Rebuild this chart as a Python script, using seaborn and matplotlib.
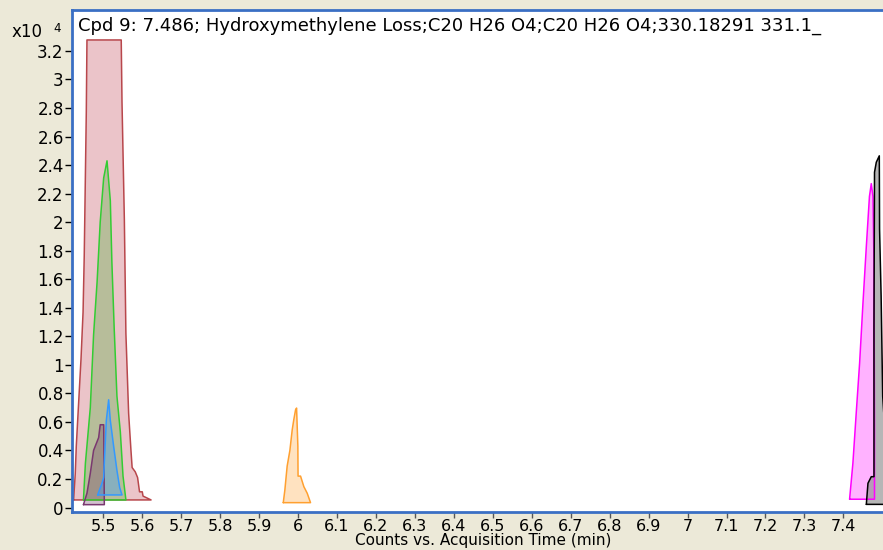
import numpy as np
import pandas as pd
import matplotlib
matplotlib.use('Agg')
import matplotlib.pyplot as plt
import seaborn as sns
from matplotlib.ticker import FuncFormatter

# peak outlines (time in min, counts in x10^4)
red_t = [5.4237, 5.428, 5.4306, 5.4427, 5.448, 5.451, 5.4563, 5.458, 5.546, 5.548, 5.554,
         5.558, 5.565, 5.571, 5.574, 5.582, 5.588, 5.593, 5.600, 5.602, 5.6226]
red_y = [0.053, 0.24, 0.43, 1.04, 1.37, 1.76, 2.77, 3.277, 3.277, 2.84, 2.02,
         1.22, 0.66, 0.40, 0.28, 0.25, 0.21, 0.11, 0.11, 0.08, 0.053]

green_t = [5.449, 5.454, 5.4666, 5.475, 5.484, 5.492, 5.5009, 5.5095, 5.518, 5.522,
           5.528, 5.535, 5.5437, 5.5506, 5.558]
green_y = [0.053, 0.31, 0.70, 1.21, 1.58, 2.0, 2.31, 2.43, 2.15, 1.72,
           1.25, 0.78, 0.53, 0.22, 0.053]

purple_t = [5.449, 5.458, 5.4666, 5.475, 5.488, 5.492, 5.501, 5.5026]
purple_y = [0.02, 0.10, 0.24, 0.40, 0.49, 0.58, 0.58, 0.02]

blue_t = [5.4854, 5.4966, 5.5008, 5.5077, 5.5137, 5.518, 5.5265, 5.535, 5.542, 5.548]
blue_y = [0.088, 0.17, 0.21, 0.61, 0.755, 0.61, 0.43, 0.26, 0.14, 0.088]

orange_t = [5.962, 5.966, 5.972, 5.979, 5.985, 5.989, 5.9936, 5.9962, 5.9995, 6.0,
            6.0064, 6.0149, 6.0235, 6.032]
orange_y = [0.034, 0.12, 0.29, 0.40, 0.545, 0.615, 0.685, 0.697, 0.43, 0.22,
            0.22, 0.146, 0.10, 0.034]

magenta_t = [7.416, 7.4245, 7.433, 7.4417, 7.4503, 7.459, 7.467, 7.4717, 7.476,
             7.4786, 7.48, 7.48]
magenta_y = [0.058, 0.31, 0.66, 1.01, 1.43, 1.83, 2.18, 2.27, 2.18,
             1.72, 0.54, 0.058]

black_t = [7.459, 7.4632, 7.4717, 7.4786, 7.4786, 7.48, 7.4846, 7.4923, 7.493,
           7.497, 7.501, 7.51, 7.52]
black_y = [0.022, 0.17, 0.216, 0.216, 1.25, 2.35, 2.42, 2.465, 1.95,
           1.48, 0.78, 0.4, 0.022]

peaks = [
    ('red', red_t, red_y, '#b8474c', '#b8283a', 0.27),
    ('green', green_t, green_y, '#33cc33', '#40b030', 0.30),
    ('purple', purple_t, purple_y, '#7a3870', '#6a3060', 0.30),
    ('blue', blue_t, blue_y, '#3399ff', '#3399ff', 0.35),
    ('orange', orange_t, orange_y, '#ffa030', '#ffa030', 0.30),
    ('magenta', magenta_t, magenta_y, '#ff00ff', '#ff00ff', 0.30),
    ('black', black_t, black_y, '#000000', '#909090', 0.65),
]

sns.set_style('white')
plt.rcParams['font.family'] = ['DejaVu Sans']
plt.rcParams['text.color'] = 'black'
plt.rcParams['axes.labelcolor'] = 'black'
plt.rcParams['xtick.labelcolor'] = 'black'
plt.rcParams['ytick.labelcolor'] = 'black'

fig = plt.figure(figsize=(8.83, 5.5), dpi=100, facecolor='#ece9d8')
ax = fig.add_axes([72 / 883, 38 / 550, 1 - 72 / 883, 502 / 550])
ax.set_facecolor('white')

rows = []
for name, t, y, edge, face, alpha in peaks:
    ax.fill(t, y, color=face, alpha=alpha, lw=0)
    tt = list(t) + [t[0]]
    yy = list(y) + [y[0]]
    for a, b in zip(tt, yy):
        rows.append({'peak': name, 'time': a, 'counts': b})
df = pd.DataFrame(rows)
pal = {p[0]: p[3] for p in peaks}
sns.lineplot(data=df, x='time', y='counts', hue='peak', palette=pal, estimator=None,
             sort=False, units='peak', lw=1.1, legend=False, ax=ax)

ax.set_xlim(5.4196, 7.5018)
ax.set_ylim(-0.0315, 3.487)
ax.set_xticks(np.round(np.arange(5.5, 7.45, 0.1), 1))
ax.set_yticks(np.round(np.arange(0, 3.25, 0.2), 1))
fmt = FuncFormatter(lambda v, p: '%g' % round(v, 1))
ax.xaxis.set_major_formatter(fmt)
ax.yaxis.set_major_formatter(fmt)
ax.tick_params(axis='y', direction='out', length=5, width=1, color='black',
               labelsize=12, pad=1, left=True)
ax.tick_params(axis='x', direction='out', length=4, width=1, color='#555555',
               labelsize=11.5, pad=1, bottom=True)
ax.set_xlabel('Counts vs. Acquisition Time (min)', fontsize=11, labelpad=0)
ax.xaxis.set_label_coords(0.507, -0.041)
ax.set_ylabel('')

for s in ['top', 'left', 'bottom']:
    ax.spines[s].set_visible(True)
    ax.spines[s].set_color('#3a6fc4')
    ax.spines[s].set_linewidth(2)
ax.spines['right'].set_visible(False)

fig.text(78 / 883, (550 - 31) / 550,
         'Cpd 9: 7.486; Hydroxymethylene Loss;C20 H26 O4;C20 H26 O4;330.18291 331.1_',
         fontsize=13, va='baseline', ha='left')
fig.text(12 / 883, (550 - 37) / 550, 'x10', fontsize=12, va='baseline', ha='left')
fig.text(53 / 883, (550 - 32) / 550, '4', fontsize=8.5, va='baseline', ha='left')

fig.savefig('out.png', dpi=100, facecolor=fig.get_facecolor())
